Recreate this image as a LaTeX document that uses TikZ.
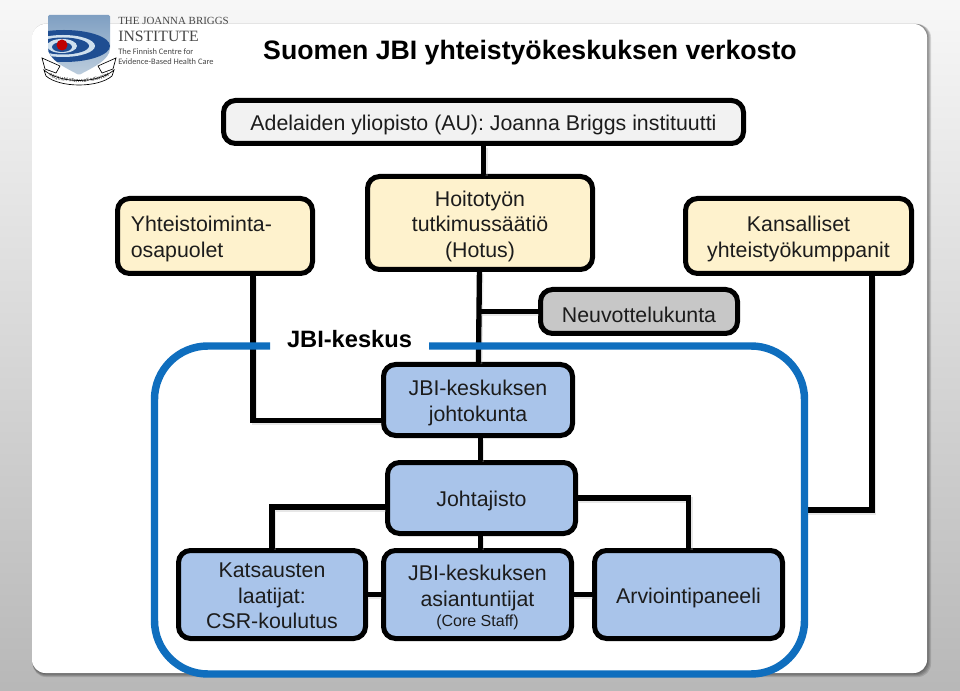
\documentclass[tikz,border=0pt]{standalone}
\usepackage{fontspec}
\setmainfont{Liberation Sans}
\newfontfamily\logoserif{Liberation Serif}
\newfontfamily\logosans{Carlito}
\usetikzlibrary{decorations.text}

\definecolor{jbiblue}{HTML}{A9C4EA}
\definecolor{jbicream}{HTML}{FEF2CD}
\definecolor{jbiframe}{HTML}{0F6EBE}
\definecolor{jbitext}{HTML}{1C1C1C}
\definecolor{jbishieldtop}{HTML}{7F9FC2}
\definecolor{jbishieldlow}{HTML}{BCCDDD}
\definecolor{jbiwave}{HTML}{1F4E92}
\definecolor{jbiring}{HTML}{CFE0EE}

\tikzset{
  boxstyle/.style={draw=black, line width=3.75pt, rounded corners=9pt, align=flush center, inner sep=0pt,
    font=\fontsize{16}{19.1}\selectfont, text=jbitext, execute at begin node={\rule{0pt}{16.4pt}}},
  boxsize/.style 2 args={minimum width=#1, text width=#1, minimum height=#2},
  linkstyle/.style={draw=black, line width=4pt, line cap=round, line join=miter,
    preaction={draw=black!30, opacity=.3, line width=4pt, transform canvas={shift={(1pt,-1.5pt)}}}},
  framestyle/.style={draw=jbiframe, line width=5.6pt, rounded corners=40pt}
}

\begin{document}
\begin{tikzpicture}[x=0.75pt, y=-0.75pt]
    \useasboundingbox (0,0) rectangle (960,691);

    % page and card
    \shade[top color=black!3, middle color=black!18, bottom color=black!28] (0,0) rectangle (960,691);
    \foreach \s in {1,...,4}
        \fill[black, opacity=.13, rounded corners=10pt] (32,24) ++(\s*0.2,-0.6+\s*0.2) rectangle (927+\s,673+\s);
    \fill[white, rounded corners=10pt] (32,24) rectangle (927,673);

    % logo
    \shade[top color=jbishieldtop, bottom color=jbishieldlow, rounded corners=1pt]
        (48,15) -- (110,15) -- (110,47) .. controls (110,60) and (92,68) .. (79,75)
        .. controls (66,68) and (48,60) .. (48,47) -- cycle;
    \begin{scope}
        \clip (48,15) -- (110,15) -- (110,47) .. controls (110,60) and (92,68) .. (79,75)
            .. controls (66,68) and (48,60) .. (48,47) -- cycle;
        \fill[jbiwave] (64,46) ellipse (46 and 16);
        \fill[jbiring] (63,46) ellipse (32 and 11);
        \fill[jbiwave] (63,46) ellipse (26 and 8.5);
        \fill[jbiring] (62,46) ellipse (15 and 7);
        \fill[jbiwave] (62,47) ellipse (10 and 5);
    \end{scope}
    \fill[red!75!black] (62,45) circle (5.5);
    \draw[black, fill=white, line width=.5pt] (42,58) -- (60,66) -- (56,73) -- (45,69) -- cycle;
    \draw[black, fill=white, line width=.5pt] (116,58) -- (98,66) -- (102,73) -- (113,69) -- cycle;
    \draw[black, fill=white, line width=.5pt] (44,70) .. controls (60,84) and (98,84) .. (114,70)
        -- (112,76) .. controls (98,88) and (60,88) .. (46,76) -- cycle;
    \path[postaction={decorate, decoration={text along path, text align=center,
        text={|\logoserif\fontsize{3.4}{4}\selectfont|AEQUAM SERVARE MENTEM}}}]
        (46,74) .. controls (60,85) and (98,85) .. (112,74);

    \node[anchor=west, inner sep=0pt, text=black!72, font=\logoserif\fontsize{8.2}{10}\selectfont] (logoa) at (118,21) {THE JOANNA BRIGGS};
    \node[anchor=west, inner sep=0pt, text=black!72, font=\logoserif\fontsize{11.8}{14}\selectfont] (logob) at (118,36) {INSTITUTE};
    \node[anchor=west, inner sep=0pt, text=black!72, font=\logosans\fontsize{6.3}{8}\selectfont] (logoc) at (118,52) {The Finnish Centre for};
    \node[anchor=west, inner sep=0pt, text=black!72, font=\logosans\fontsize{6.3}{8}\selectfont] (logod) at (118,62) {Evidence-Based Health Care};

    \node[font=\bfseries\fontsize{20}{24}\selectfont, text=black] (title) at (530,53) {Suomen JBI yhteistyökeskuksen verkosto};

    % boxes
    \node[boxstyle, boxsize={390pt}{32.25pt}, fill=black!5] (au) at (483.5,122) {Adelaiden yliopisto (AU): Joanna Briggs instituutti};
    \node[boxstyle, boxsize={168.75pt}{69.75pt}, fill=jbicream] (hotus) at (480,223) {Hoitotyön\\tutkimussäätiö\\(Hotus)};
    \node[boxstyle, boxsize={146.25pt}{56.25pt}, text width=126.25pt, align=flush left, fill=jbicream] (yht) at (215,236) {Yhteistoiminta-\\osapuolet};
    \node[boxstyle, boxsize={169.5pt}{56.25pt}, fill=jbicream] (kans) at (798.5,236) {Kansalliset\\yhteistyökumppanit};
    \node[boxstyle, boxsize={147.75pt}{33pt}, fill=black!22] (neuv) at (639,311.5) {Neuvottelukunta};
    \node[boxstyle, boxsize={141.75pt}{53.25pt}, fill=jbiblue] (johto) at (478,400) {JBI-keskuksen\\johtokunta};
    \node[boxstyle, boxsize={141pt}{53.25pt}, fill=jbiblue] (johta) at (481.5,498) {Johtajisto};
    \node[boxstyle, boxsize={140.25pt}{66pt}, fill=jbiblue] (kats) at (272,594.5) {Katsausten\\laatijat:\\CSR-koulutus\rule[-3pt]{0pt}{0pt}};
    \node[boxstyle, boxsize={141pt}{66pt}, fill=jbiblue] (asian) at (477.5,594.5) {JBI-keskuksen\\asiantuntijat\\[-3.5pt]{\fontsize{12}{14}\selectfont (Core Staff)}};
    \node[boxstyle, boxsize={141pt}{66pt}, fill=jbiblue] (arvi) at (688.5,594.5) {Arviointipaneeli};

    \coordinate (yhtjoin) at (253,420.5);
    \coordinate (kansjoin) at (872,510);
    \coordinate (framejoin) at (804,510);
    \coordinate (katsjoin) at (272,507);

    % connectors
    \path[linkstyle] (au.south) -- (au.south |- hotus.north);
    \path[linkstyle] (hotus) -- (johto);
    \path[linkstyle] (neuv.west) -- (neuv.west -| hotus.south);
    \path[linkstyle] (yht.south -| yhtjoin) -- (yhtjoin) -- (yhtjoin -| johto.west);
    \path[linkstyle] (kans.south -| kansjoin) -- (kansjoin) -- (framejoin);
    \path[linkstyle] ([xshift=-1pt]johta.north) -- ([xshift=-1pt]johta.north |- johto.south);
    \path[linkstyle] ([xshift=-1pt]johta.south) -- ([xshift=-1pt]johta.south |- asian.north);
    \path[linkstyle] (kats.north) -- (katsjoin) -- (katsjoin -| johta.west);
    \path[linkstyle] (johta.east) -| (arvi.north);
    \path[linkstyle] (kats.east) -- (asian.west);
    \path[linkstyle] (asian.east) -- (arvi.west);

    % JBI frame
    \draw[framestyle] (270,346) -- (154.5,346) -- (154.5,674) -- (804.5,674) -- (804.5,346) -- (429,346);
    \node[font=\bfseries\fontsize{17.75}{21}\selectfont, text=black] (jbikeskus) at (349.5,339) {JBI-keskus};
\end{tikzpicture}
\end{document}
